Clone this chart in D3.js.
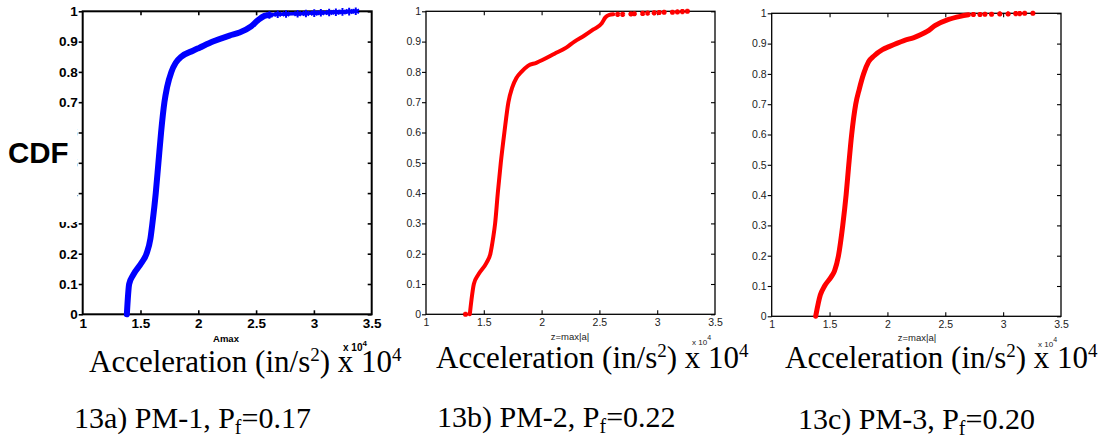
<!DOCTYPE html>
<html>
<head>
<meta charset="utf-8">
<script src="https://cdn.jsdelivr.net/npm/d3@7"></script>
<style>
  html, body { margin: 0; padding: 0; background: #fff; }
  svg { display: block; }
</style>
</head>
<body>
<svg id="chart" width="1102" height="440"></svg>
<script>
// ---------------- data ----------------
const xTicks = [1, 1.5, 2, 2.5, 3, 3.5];
const yTicks = [0, 0.1, 0.2, 0.3, 0.4, 0.5, 0.6, 0.7, 0.8, 0.9, 1];

// PM-1 (blue)
const pm1X = [1.382, 1.402, 1.437, 1.509, 1.552, 1.586, 1.603, 1.632, 1.655, 1.678, 1.707, 1.730, 1.767, 1.805, 1.853, 1.954, 2.011, 2.126, 2.270, 2.356, 2.457, 2.514, 2.572, 2.615];
const pm1Y = [0, 0.10, 0.13, 0.17, 0.20, 0.25, 0.30, 0.40, 0.50, 0.60, 0.70, 0.75, 0.80, 0.83, 0.85, 0.87, 0.88, 0.90, 0.92, 0.93, 0.95, 0.97, 0.985, 0.988];
const pm1TailX = [2.615, 2.687, 2.759, 2.859, 2.931, 3.003, 3.060, 3.132, 3.190, 3.247, 3.305, 3.362];
const pm1TailY = [0.988, 0.990, 0.991, 0.992, 0.993, 0.994, 0.995, 0.996, 0.997, 0.998, 0.999, 1.0];

// PM-2 (red)
const pm2X = [1.379, 1.394, 1.414, 1.451, 1.523, 1.557, 1.580, 1.598, 1.621, 1.647, 1.678, 1.713, 1.747, 1.782, 1.825, 1.882, 1.954, 2.011, 2.112, 2.213, 2.284, 2.371, 2.448, 2.520, 2.552, 2.586, 2.620];
const pm2Y = [0, 0.05, 0.10, 0.13, 0.17, 0.20, 0.25, 0.30, 0.40, 0.50, 0.60, 0.70, 0.75, 0.78, 0.80, 0.82, 0.83, 0.84, 0.86, 0.88, 0.90, 0.92, 0.94, 0.96, 0.98, 0.988, 0.99];
const pm2TailX = [1.342, 2.658, 2.701, 2.773, 2.802, 2.874, 2.917, 2.974, 3.017, 3.060, 3.132, 3.175, 3.218, 3.261];
const pm2TailY = [0, 0.990, 0.990, 0.991, 0.992, 0.993, 0.994, 0.995, 0.996, 0.997, 0.997, 0.998, 0.999, 1.0];

// PM-3 (red)
const pm3X = [1.380, 1.420, 1.457, 1.514, 1.543, 1.577, 1.614, 1.643, 1.666, 1.691, 1.726, 1.757, 1.794, 1.837, 1.886, 1.957, 2.014, 2.143, 2.229, 2.343, 2.414, 2.529, 2.629, 2.700];
const pm3Y = [0, 0.07, 0.10, 0.13, 0.15, 0.20, 0.30, 0.40, 0.50, 0.60, 0.70, 0.75, 0.80, 0.84, 0.86, 0.88, 0.89, 0.91, 0.92, 0.94, 0.96, 0.98, 0.99, 0.995];
const pm3TailX = [2.743, 2.800, 2.843, 2.900, 2.971, 3.043, 3.109, 3.143, 3.186, 3.257];
const pm3TailY = [0.996, 0.996, 0.997, 0.997, 0.998, 0.998, 0.999, 0.999, 1.0, 1.0];

const captions = ["13a) PM-1, P", "13b) PM-2, P", "13c) PM-3, P"];
const captionValues = ["=0.17", "=0.22", "=0.20"];
const innerLabels = ["Amax", "z=max|a|", "z=max|a|"];

// ---------------- layout ----------------
const SERIF = "'Liberation Serif', 'Times New Roman', Times, serif";
const SANS = "'Liberation Sans', Arial, Helvetica, sans-serif";

const panels = [
  { left: 82.7, right: 371.7, top: 11.3, bottom: 314.3, bold: true, color: "#0000ff", lw: 6, frame: 2,
    x: pm1X, y: pm1Y, tx: pm1TailX, ty: pm1TailY, tailLine: true,
    lab: { cx: 226, y: 342 }, exp: { x: 343, y: 351 },
    acc: { x: 89, y: 372 }, cap: { x: 74, y: 428 } },
  { left: 426, right: 715, top: 11.3, bottom: 314.3, bold: false, color: "#ff0000", lw: 4, frame: 1.3,
    x: pm2X, y: pm2Y, tx: pm2TailX, ty: pm2TailY, tailLine: false,
    lab: { cx: 570, y: 340 }, exp: { x: 692, y: 345 },
    acc: { x: 436, y: 368 }, cap: { x: 437, y: 427 } },
  { left: 771.7, right: 1061, top: 13.3, bottom: 316.3, bold: false, color: "#ff0000", lw: 5, frame: 1.3,
    x: pm3X, y: pm3Y, tx: pm3TailX, ty: pm3TailY, tailLine: false,
    lab: { cx: 917, y: 341 }, exp: { x: 1038, y: 347 },
    acc: { x: 785, y: 368 }, cap: { x: 798, y: 429 } }
];

const svg = d3.select("#chart");
const symAst = d3.symbolAsterisk || d3.symbolCross;

panels.forEach((p, i) => {
  const xs = d3.scaleLinear().domain([1, 3.5]).range([p.left, p.right]);
  const ys = d3.scaleLinear().domain([0, 1]).range([p.bottom, p.top]);
  const g = svg.append("g");
  const tickFill = p.bold ? "#000" : "#222";

  const ax = [
    g.append("g").attr("transform", `translate(0,${p.bottom})`)
      .call(d3.axisBottom(xs).tickValues(xTicks).tickSizeInner(-4).tickSizeOuter(0).tickPadding(4).tickFormat(d3.format("~g"))),
    g.append("g").attr("transform", `translate(0,${p.top})`)
      .call(d3.axisTop(xs).tickValues(xTicks).tickSizeInner(-4).tickSizeOuter(0).tickFormat("")),
    g.append("g").attr("transform", `translate(${p.left},0)`)
      .call(d3.axisLeft(ys).tickValues(yTicks).tickSizeInner(4).tickSizeOuter(0).tickPadding(1).tickFormat(d3.format("~g"))),
    g.append("g").attr("transform", `translate(${p.right},0)`)
      .call(d3.axisRight(ys).tickValues(yTicks).tickSizeInner(-4).tickSizeOuter(0).tickFormat(""))
  ];
  ax.forEach(a => {
    a.attr("font-family", null).attr("font-size", null);
    a.select(".domain").remove();
    a.selectAll("line").attr("stroke", "#000").attr("stroke-width", p.bold ? 1.6 : 1.1);
    a.selectAll("text")
      .style("font-family", SANS)
      .style("font-size", p.bold ? "13.5px" : "10.5px")
      .style("font-weight", p.bold ? "bold" : "normal")
      .attr("fill", tickFill);
  });
  ax[0].selectAll(".tick line").filter(d => d === 1 || d === 3.5).remove();
  ax[1].selectAll(".tick line").filter(d => d === 1 || d === 3.5).remove();

  g.append("rect")
    .attr("x", p.left).attr("y", p.top)
    .attr("width", p.right - p.left).attr("height", p.bottom - p.top)
    .attr("fill", "none").attr("stroke", "#000").attr("stroke-width", p.frame);

  const pts = p.x.map((v, k) => [v, p.y[k]]);
  const line = d3.line().x(d => xs(d[0])).y(d => ys(d[1])).curve(d3.curveMonotoneX);
  g.append("path").datum(pts).attr("d", line)
    .attr("fill", "none").attr("stroke", p.color).attr("stroke-width", p.lw)
    .attr("stroke-linecap", "round").attr("stroke-linejoin", "round");

  const tail = p.tx.map((v, k) => [v, p.ty[k]]);
  if (p.tailLine) {
    g.append("path").datum(tail).attr("d", line)
      .attr("fill", "none").attr("stroke", p.color).attr("stroke-width", 3.5)
      .attr("stroke-linecap", "round");
  }
  g.selectAll(".mk").data(tail).join("path")
    .attr("transform", d => `translate(${xs(d[0])},${ys(d[1])})`)
    .attr("d", d3.symbol().type(symAst).size(p.tailLine ? 40 : 18))
    .attr("fill", "none").attr("stroke", p.color).attr("stroke-width", p.tailLine ? 2 : 2.2);

  g.append("text").attr("x", p.lab.cx).attr("y", p.lab.y).attr("text-anchor", "middle")
    .style("font-family", SANS).style("font-size", "9.5px").style("font-weight", p.bold ? "bold" : "normal")
    .attr("fill", tickFill).text(innerLabels[i]);
  const ex = g.append("text").attr("x", p.exp.x).attr("y", p.exp.y)
    .style("font-family", SANS).style("font-size", p.bold ? "10px" : "8px").style("font-weight", p.bold ? "bold" : "normal")
    .attr("fill", tickFill);
  ex.append("tspan").text("x 10");
  ex.append("tspan").attr("dy", -5).style("font-size", p.bold ? "8px" : "7px").text("4");

  const acc = g.append("text").attr("x", p.acc.x).attr("y", p.acc.y)
    .style("font-family", SERIF).style("font-size", "31px").attr("fill", "#000");
  acc.append("tspan").text("Acceleration (in/s");
  acc.append("tspan").attr("dy", -11).style("font-size", "19px").text("2");
  acc.append("tspan").attr("dy", 11).text(") x 10");
  acc.append("tspan").attr("dy", -11).style("font-size", "19px").text("4");

  const cap = g.append("text").attr("x", p.cap.x).attr("y", p.cap.y)
    .style("font-family", SERIF).style("font-size", "30px").attr("fill", "#000");
  cap.append("tspan").text(captions[i]);
  cap.append("tspan").attr("dy", 6).style("font-size", "20px").text("f");
  cap.append("tspan").attr("dy", -6).text(captionValues[i]);
});

svg.append("rect").attr("x", 0).attr("y", 110).attr("width", 77.5).attr("height", 112).attr("fill", "#fff");
svg.append("text").attr("x", 8).attr("y", 163)
  .style("font-family", SANS).style("font-size", "29.5px").style("font-weight", "bold")
  .attr("fill", "#000").text("CDF");
</script>
</body>
</html>
